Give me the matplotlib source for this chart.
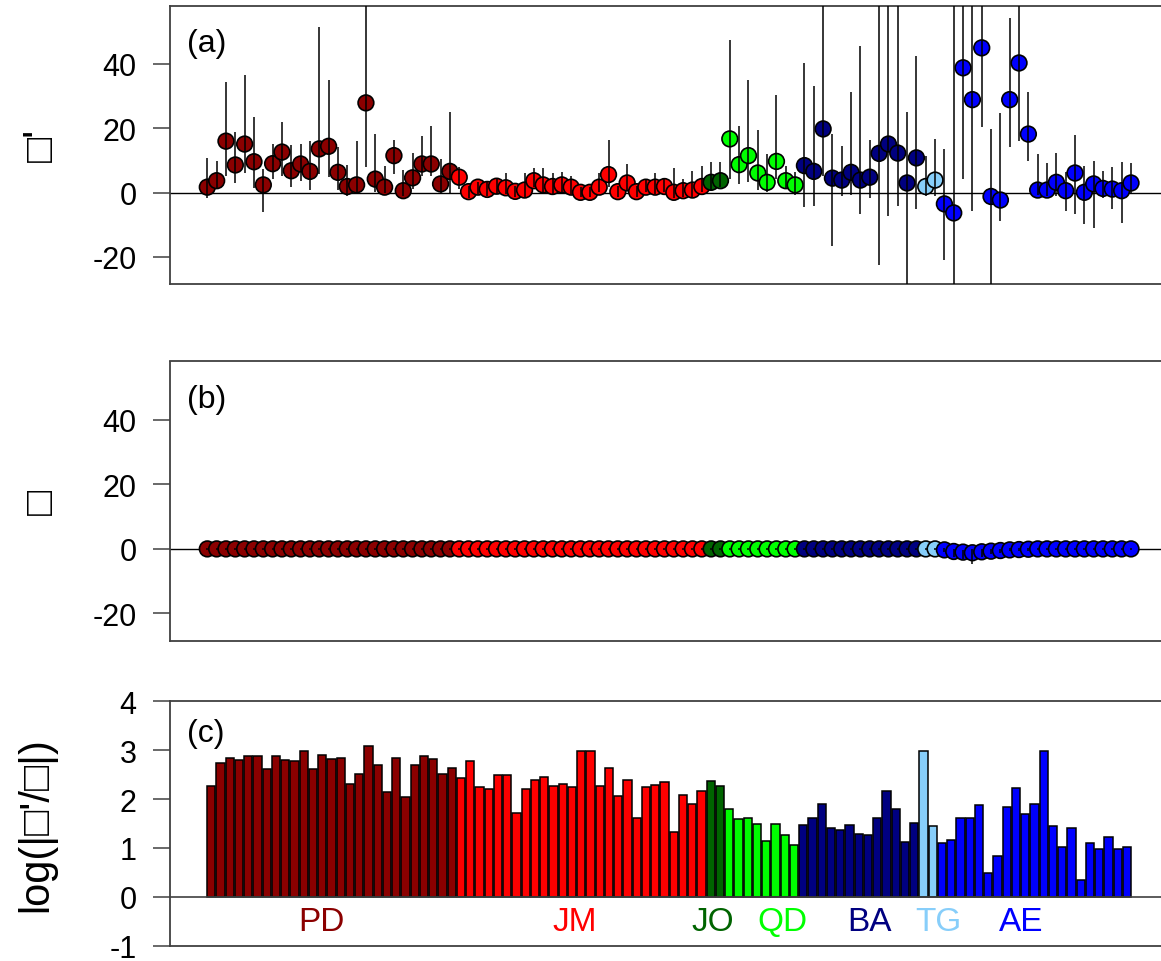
import matplotlib
matplotlib.use("Agg")
import matplotlib.pyplot as plt
import numpy as np

plt.rcParams['font.family'] = ['Liberation Sans', 'DejaVu Sans']
plt.rcParams['axes.unicode_minus'] = False

# ---------------- data ----------------
groups = ['PD', 'JM', 'JO', 'QD', 'BA', 'TG', 'AE']
group_sizes = [27, 27, 2, 8, 13, 2, 21]
group_colors = ['#8B0000', '#FF0000', '#006400', '#00FF00', '#000080', '#87CEFA', '#0000FF']
group_label_x = [12.9, 40.3, 55.2, 62.8, 72.2, 79.6, 88.6]

# panel (a): estimate and interval bounds
a_values = [
    # PD
    1.7, 3.7, 16.0, 8.6, 15.1, 9.6, 2.4, 9.0, 12.6, 6.8, 8.9, 6.6, 13.6, 14.4,
    6.3, 1.9, 2.4, 27.9, 4.2, 1.7, 11.5, 0.6, 4.6, 8.9, 8.9, 2.7, 6.6,
    # JM
    4.8, 0.3, 1.7, 1.0, 2.0, 1.5, 0.4, 0.8, 3.7, 2.4, 1.9, 2.4, 1.7, 0.1,
    0.1, 1.7, 5.6, 0.3, 3.0, 0.3, 1.7, 1.7, 1.9, 0.1, 0.6, 0.8, 1.9,
    # JO
    3.2, 3.7,
    # QD
    16.7, 8.7, 11.5, 6.1, 3.2, 9.7, 3.7, 2.4,
    # BA
    8.4, 6.6, 19.8, 4.5, 3.9, 6.3, 3.9, 4.8, 12.2, 15.1, 12.3, 3.0, 10.8,
    # TG
    1.9, 3.9,
    # AE
    -3.5, -6.3, 38.8, 28.9, 45.0, -1.2, -2.3, 28.9, 40.3, 18.2, 0.8, 0.8,
    3.2, 0.6, 6.1, 0.1, 2.7, 1.3, 1.1, 0.6, 3.0,
]
a_upper = [
    10.7, 9.9, 34.3, 18.8, 36.6, 23.4, 7.4, 15.1, 21.9, 14.8, 15.1, 16.2, 51.4, 35.0,
    14.1, 8.7, 15.9, 75.0, 18.2, 8.4, 16.4, 7.0, 12.3, 17.7, 20.8, 10.5, 25.0,
    7.9, 2.2, 3.4, 3.7, 4.2, 6.1, 2.2, 6.1, 7.7, 7.7, 6.1, 6.5, 5.3, 1.7,
    1.7, 6.1, 16.4, 2.2, 8.9, 2.2, 4.2, 6.1, 4.2, 7.6, 4.2, 6.8, 8.4,
    9.6, 9.6,
    47.5, 20.8, 35.0, 19.6, 12.0, 30.2, 8.4, 6.3,
    40.2, 33.1, 75.0, 18.2, 14.4, 31.4, 45.7, 16.4, 75.0, 75.0, 75.0, 25.0, 42.6,
    11.5, 16.7,
    13.6, 75.0, 75.0, 75.0, 75.0, 19.8, 24.7, 54.2, 75.0, 31.4, 12.0, 9.2,
    12.3, 6.3, 17.9, 8.4, 9.9, 6.8, 7.9, 9.6, 9.1,
]
a_lower = [
    -1.8, 1.5, 5.3, 3.0, 6.1, 1.3, -6.1, 4.2, 5.1, 1.7, 3.7, 0.9, 5.8, 4.8,
    0.9, -0.9, -0.4, 8.1, 0.3, -0.2, 5.8, -1.1, 1.1, 5.3, 5.3, -0.4, 0.0,
    1.1, -1.8, -0.4, -0.9, -0.4, -0.4, -1.4, -1.4, 1.7, 0.1, -0.4, 0.1, -0.4, -1.4,
    -1.4, 0.1, 1.7, -1.4, 0.6, -1.4, 0.1, -0.4, 0.1, -1.8, -1.4, -1.4, 0.1,
    0.6, 1.7,
    4.2, 2.7, 3.4, 0.9, 0.1, 4.2, 1.3, -0.6,
    -4.6, -4.2, 5.3, -16.5, -0.9, -0.6, -6.6, -1.8, -22.5, -7.4, -4.2, -40.0, -5.1,
    -0.9, -0.9,
    -20.9, -40.0, 4.2, -5.7, 20.5, -40.0, -8.9, 14.1, 16.2, 9.7, -0.6, -0.9,
    -0.9, -5.7, -6.6, -9.9, -11.1, -1.8, -5.1, -9.4, -0.4,
]

# panel (b): estimate and interval bounds
b_values = [0.0] * 79 + [-0.3, -0.8, -1.0, -1.2, -0.9, -0.7, -0.5, -0.3, -0.2,
                         -0.1, 0.0, 0.0, 0.0, 0.0, 0.0, 0.0, 0.0, 0.0, 0.0, 0.0, 0.0]
b_upper = [0.4] * 79 + [0.3, 0.0, -0.2, 0.0, 0.0, 0.0, 0.1, 0.2, 0.2,
                        0.3, 0.4, 0.4, 0.4, 0.4, 0.4, 0.4, 0.4, 0.4, 0.4, 0.4, 0.4]
b_lower = [-0.4] * 79 + [-1.0, -2.5, -3.0, -4.6, -2.5, -1.6, -1.2, -0.8, -0.6,
                         -0.5, -0.4, -0.4, -0.4, -0.4, -0.4, -0.4, -0.4, -0.4, -0.4, -0.4, -0.4]

# panel (c): log ratio bars
c_values = [
    # PD
    2.27, 2.74, 2.84, 2.80, 2.88, 2.89, 2.61, 2.88, 2.80, 2.78, 2.98, 2.61, 2.90, 2.81,
    2.84, 2.30, 2.52, 3.08, 2.69, 2.14, 2.84, 2.04, 2.69, 2.88, 2.81, 2.52, 2.63,
    # JM
    2.43, 2.78, 2.24, 2.20, 2.50, 2.50, 1.72, 2.20, 2.40, 2.45, 2.27, 2.31, 2.24, 2.99,
    2.99, 2.27, 2.63, 2.06, 2.40, 1.62, 2.24, 2.29, 2.34, 1.33, 2.08, 1.90, 2.16,
    # JO
    2.37, 2.27,
    # QD
    1.80, 1.59, 1.61, 1.48, 1.14, 1.48, 1.27, 1.07,
    # BA
    1.46, 1.62, 1.90, 1.41, 1.36, 1.46, 1.28, 1.26, 1.62, 2.16, 1.80, 1.12, 1.51,
    # TG
    2.99, 1.44,
    # AE
    1.10, 1.17, 1.62, 1.62, 1.88, 0.48, 0.84, 1.83, 2.22, 1.69, 1.90, 2.99, 1.44,
    1.01, 1.41, 0.34, 1.10, 0.97, 1.22, 0.97, 1.01,
]

a_ylabel = "\u25a1'"
b_ylabel = "\u25a1"
c_ylabel = "log(|\u25a1'/\u25a1|)"

# ---------------- figure ----------------
colors = []
for col, n in zip(group_colors, group_sizes):
    colors += [col] * n
n_pts = len(c_values)
x = np.arange(1, n_pts + 1)

W, H = 1161, 962
fig = plt.figure(figsize=(W / 100, H / 100), dpi=100)

def px_axes(top, bottom):
    return fig.add_axes([170 / W, 1 - bottom / H, 993 / W, (bottom - top) / H])

ax_a = px_axes(6.7, 285.0)
ax_b = px_axes(362.5, 641.5)
ax_c = px_axes(702.3, 946.7)

spine_col = '#404040'
for ax in (ax_a, ax_b, ax_c):
    for s in ax.spines.values():
        s.set_color(spine_col)
        s.set_linewidth(1.3)
    ax.tick_params(axis='y', direction='out', length=12, width=1.1, pad=12,
                   labelsize=22, colors='black')
    ax.tick_params(axis='y', color=spine_col)
    ax.set_xticks([])

def point_panel(ax, vals, lo, hi, label, ylab):
    ax.set_xlim(-3.0, 103.43)
    ax.set_ylim(-28.4, 58.1)
    ax.set_yticks([-20, 0, 20, 40])
    ax.set_yticklabels(['-20', '0', '20', '40'])
    ax.axhline(0, color='black', lw=1.0, zorder=1)
    ax.scatter(x, vals, s=11.3 ** 2, c=colors, edgecolors='black', linewidths=1.2, zorder=2)
    ax.vlines(x, lo, hi, color='black', lw=1.1, zorder=3)
    ax.text(0.017, 0.865, label, transform=ax.transAxes, fontsize=23,
            ha='left', va='center')
    ax.text(-0.129, 0.5, ylab, transform=ax.transAxes, fontsize=30, rotation=90,
            ha='center', va='center')

point_panel(ax_a, a_values, a_lower, a_upper, '(a)', a_ylabel)
point_panel(ax_b, b_values, b_lower, b_upper, '(b)', b_ylabel)

# panel (c)
ax_c.set_xlim(-3.465, 103.89)
ax_c.set_ylim(-1, 4)
ax_c.set_yticks([-1, 0, 1, 2, 3, 4])
ax_c.bar(x, c_values, width=0.88, color=colors, edgecolor='black', linewidth=1.1, zorder=2)
ax_c.axhline(0, color=spine_col, lw=1.2, zorder=3)
ax_c.text(0.017, 0.87, '(c)', transform=ax_c.transAxes, fontsize=23, ha='left', va='center')
ax_c.text(-0.135, 0.5, c_ylabel, transform=ax_c.transAxes, fontsize=30, rotation=90,
          ha='center', va='center')
for g, gx, col in zip(groups, group_label_x, group_colors):
    ax_c.text(gx, -0.5, g, color=col, fontsize=24, ha='center', va='center')

fig.savefig('out.png', dpi=100)
